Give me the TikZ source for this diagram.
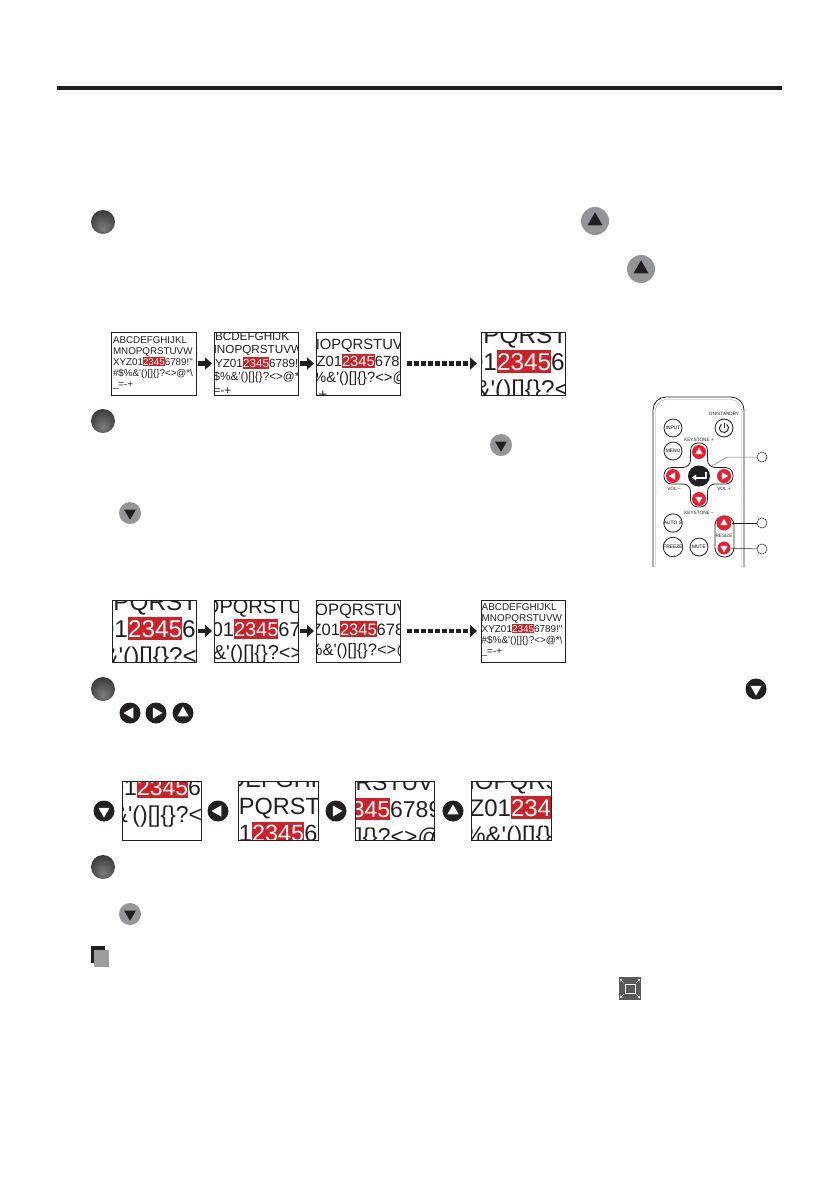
\documentclass[tikz,border=0pt]{standalone}
\usepackage{fontspec}
\usepackage{xcolor}
\usepackage{tikz}
\usetikzlibrary{shapes,shapes.geometric,arrows.meta}
\setsansfont{Liberation Sans}
\newfontfamily\sheetfont{Liberation Sans}
\definecolor{inkblack}{HTML}{231F20}
\definecolor{sheetred}{HTML}{CD2027}
\definecolor{btngray}{HTML}{939598}
\definecolor{remotered}{HTML}{ED1C2E}
\definecolor{icongray}{HTML}{58595B}
\pgfdeclareradialshading{bulletball}{\pgfpoint{0bp}{-14bp}}{color(0bp)=(inkblack!58); color(14bp)=(inkblack!72); color(34bp)=(inkblack!92); color(50bp)=(inkblack)}
\tikzstyle{frame} = [rectangle, draw=inkblack, line width=.8pt, inner sep=0pt, outer sep=0pt]
\tikzstyle{line} = [draw=inkblack, line width=4.5pt, shorten >=2pt, shorten <=2pt, -{Triangle[length=7pt,width=12pt]}]
\tikzstyle{dotline} = [line, shorten <=7pt, shorten >=4pt, dash pattern=on 4.5pt off 2.5pt]
\tikzstyle{bulletball} = [circle, minimum size=24pt, inner sep=0pt, shading=bulletball]
\tikzstyle{graybtn} = [circle, fill=btngray, inner sep=0pt]
\tikzstyle{darkbtn} = [circle, fill=inkblack, minimum size=21pt, inner sep=0pt]
\tikzstyle{redbtn} = [circle, fill=remotered, inner sep=0pt]
\tikzstyle{wedge} = [regular polygon, regular polygon sides=3, inner sep=0pt]
\tikzstyle{rkey} = [circle, draw=inkblack, line width=.8pt, minimum size=18pt, inner sep=0pt, font=\sffamily\fontsize{4.9}{5}\selectfont]
\tikzstyle{rlabel} = [inner sep=0pt, font=\sffamily\fontsize{4.7}{5}\selectfont, text=inkblack]
\tikzstyle{callout} = [circle, draw=inkblack, line width=.5pt, minimum size=10pt, inner sep=0pt]
\tikzstyle{sheetline} = [anchor=base west, inner sep=0pt, outer sep=0pt, text=inkblack]
\newlength{\sheetprefix}
\newcommand{\onred}[1]{{\color{white}#1}}
% name, x0, y0, x1, y1, left of red, baseline of red, font size, line distance
\newcommand{\thumbopen}[9]{
  \def\thumbname{#1}\def\thumbxa{#2}\def\thumbya{#3}\def\thumbxb{#4}\def\thumbyb{#5}
  \def\sheety{#7}\def\sheetsize{#8}\def\sheetgap{#9}
  \pgfmathsetmacro{\sheetx}{#6-3.057*#8}
  \begin{scope}
    \clip (#2,#3) rectangle (#4,#5);
    \fill [sheetred] (#6,#7-.83*#8) rectangle (#6+2.224*#8,#7+.13*#8);
}
% what stands before the visible part, visible part, row
\newcommand{\sheetrow}[3]{
  \settowidth{\sheetprefix}{\pgfinterruptpicture\sheetfont\fontsize{\sheetsize}{\sheetsize}\selectfont #1\endpgfinterruptpicture}
  \node [sheetline, font=\sheetfont\fontsize{\sheetsize}{\sheetsize}\selectfont] (\thumbname-#3) at ([xshift=\sheetprefix]{\sheetx},{\sheety+(#3)*\sheetgap}) {#2};
}
\newcommand{\thumbclose}{
  \end{scope}
  \pgfmathsetmacro{\sheetw}{\thumbxb-\thumbxa}
  \pgfmathsetmacro{\sheeth}{\thumbyb-\thumbya}
  \node [frame, minimum width=\sheetw pt, minimum height=\sheeth pt] (\thumbname) at ({(\thumbxa+\thumbxb)/2},{(\thumbya+\thumbyb)/2}) {};
}
\newcommand{\fullsheet}{
  \sheetrow{}{ABCDEFGHIJKL}{-2}
  \sheetrow{}{MNOPQRSTUVW}{-1}
  \sheetrow{}{XYZ01\onred{2345}6789!"}{0}
  \sheetrow{}{\#\$\%\&'()[]\{\}?<>@*\textbackslash}{1}
  \sheetrow{}{\textunderscore=-+}{2}
}
\begin{document}
\begin{tikzpicture}[x=1pt,y=-1pt]
\path [fill=white, use as bounding box] (0,0) rectangle (840,1192);
\fill [inkblack] (57,86) rectangle (782,90);

\node [bulletball] (stepA) at (103,222) {};
\node [bulletball] (stepB) at (103,421) {};
\node [bulletball] (stepC) at (103,689) {};
\node [bulletball] (stepD) at (103,867) {};

% gray buttons in the running text
\foreach \nm/\x/\y/\sz/\rot in {upA/595/221/28/0, upB/641/269/28/0, downA/501/445/22/180, downB/130/513/22/180, downC/130/914/22/180} {
  \node [graybtn, minimum size=\sz pt] (\nm) at (\x,\y) {};
  \pgfmathsetmacro{\tri}{\sz*.62}
  \node [wedge, fill=inkblack, minimum size=\tri pt, shape border rotate=\rot] (\nm-tri) at (\nm) {};
}
% black buttons
\foreach \nm/\x/\y/\rot in {textDown/756/689/180, textLeft/130/713/90, textRight/156/713/270, textUp/183/713/0, rowDown/104/811/180, rowLeft/218/811/90, rowRight/336/811/270, rowUp/453/811/0} {
  \node [darkbtn] (\nm) at (\x,\y) {};
  \node [wedge, fill=white, minimum size=13pt, shape border rotate=\rot] (\nm-tri) at (\nm) {};
}

\thumbopen{thumbA}{111}{332}{196}{395}{143}{365}{9.8}{11}
  \fullsheet
\thumbclose
\thumbopen{thumbB}{214}{332}{298}{395}{243}{367}{11.7}{13.5}
  \sheetrow{A}{BCDEFGHIJK}{-2}
  \sheetrow{}{MNOPQRSTUVW}{-1}
  \sheetrow{X}{YZ01\onred{2345}6789!}{0}
  \sheetrow{\#}{\$\%\&'()[]\{\}?<>@*}{1}
  \sheetrow{\textunderscore}{=-+}{2}
\thumbclose
\thumbopen{thumbC}{316}{332}{400}{395}{342}{366}{14.8}{16.5}
  \sheetrow{M}{NOPQRSTUV}{-1}
  \sheetrow{XY}{Z01\onred{2345}678}{0}
  \sheetrow{\#\$}{\%\&'()[]\{\}?<>@}{1}
  \sheetrow{\textunderscore=}{-+}{2}
\thumbclose
\thumbopen{thumbD}{481}{332}{565}{395}{497}{370}{24.3}{27}
  \sheetrow{MNO\hspace{4pt}}{PQRST}{-1}
  \sheetrow{XYZ}{01\onred{2345}6}{0}
  \sheetrow{\#\$\%\hspace{3pt}}{\&'()[]\{\}?<}{1}
\thumbclose
\path [line] (thumbA) -- (thumbB);
\path [line] (thumbB) -- (thumbC);
\path [dotline] (thumbC) -- (thumbD);

\thumbopen{thumbE}{112}{600}{196}{662}{128}{637}{24.3}{27}
  \sheetrow{MNO\hspace{3pt}}{PQRST}{-1}
  \sheetrow{XYZ}{01\onred{2345}6}{0}
  \sheetrow{\#\$\%}{\&'()[]\{\}?<}{1}
\thumbclose
\thumbopen{thumbF}{214}{600}{298}{662}{234}{636}{20}{23}
  \sheetrow{MN}{OPQRSTU}{-1}
  \sheetrow{XYZ}{01\onred{2345}67}{0}
  \sheetrow{\#\$\%}{\&'()[]\{\}?<>}{1}
\thumbclose
\thumbopen{thumbG}{316}{600}{400}{662}{340}{635}{16.5}{20}
  \sheetrow{MN}{OPQRSTUV}{-1}
  \sheetrow{XY}{Z01\onred{2345}678}{0}
  \sheetrow{\#\$}{\%\&'()[]\{\}?<>@}{1}
\thumbclose
\thumbopen{thumbH}{481}{600}{565}{662}{512}{632}{9.9}{11}
  \fullsheet
\thumbclose
\path [line] (thumbE) -- (thumbF);
\path [line] (thumbF) -- (thumbG);
\path [dotline] (thumbG) -- (thumbH);

\thumbopen{thumbI}{122}{781}{201}{840}{137}{795}{23}{27}
  \sheetrow{XYZ}{01\onred{2345}6}{0}
  \sheetrow{\#\$\%}{\&'()[]\{\}?<}{1}
\thumbclose
\thumbopen{thumbJ}{238}{781}{318}{840}{252}{841}{23.5}{27}
  \sheetrow{ABC}{DEFGHI}{-2}
  \sheetrow{MNO\hspace{4pt}}{PQRST}{-1}
  \sheetrow{XYZ}{01\onred{2345}6}{0}
\thumbclose
\thumbopen{thumbK}{355}{781}{434}{840}{339}{817}{23}{27}
  \sheetrow{MNOPQ}{RSTUV}{-1}
  \sheetrow{XYZ012}{\onred{345}6789}{0}
  \sheetrow{\#\$\%\&'()[}{]\{\}?<>@}{1}
\thumbclose
\thumbopen{thumbL}{471}{781}{551}{840}{511}{816}{24}{27}
  \sheetrow{M}{NOPQRS}{-1}
  \sheetrow{XY}{Z01\onred{234}}{0}
  \sheetrow{\#\$}{\%\&'()[]\{\}}{1}
\thumbclose

% note mark and full screen icon
\fill [inkblack] (91,946) rectangle (105,963);
\fill [black!38] (94,950) rectangle (109,967);
\node [rectangle, fill=icongray, minimum width=22pt, minimum height=23pt, inner sep=0pt] (fullIcon) at (630,988.5) {};
\node [rectangle, draw=white, line width=.8pt, minimum width=10pt, minimum height=9pt, inner sep=0pt] (fullBox) at (fullIcon) {};
\foreach \cn/\dx/\dy in {south west/-1/1, south east/1/1, north west/-1/-1, north east/1/-1} {
  \draw [white, line width=.5pt, -{Triangle[length=2pt,width=2.5pt]}] ([xshift=\dx*1pt,yshift=-\dy*1pt]fullBox.\cn) -- ([xshift=\dx*4.5pt,yshift=-\dy*4.5pt]fullBox.\cn);
}

% remote control
\draw [inkblack, line width=.8pt, rounded corners=13pt] (653,567) -- (653,397) -- (744,397) -- (744,567);
\draw [black!35, line width=.4pt, rounded corners=11pt] (655.5,567) -- (655.5,399.5) -- (741.5,399.5) -- (741.5,567);
\node [rlabel] (standbyLabel) at (724,414) {ON/STANDBY};
\node [rkey] (powerKey) at (724,428) {};
\draw [inkblack, line width=1pt] ([shift={(55:4.5pt)}]powerKey.center) arc [start angle=55, end angle=-235, radius=4.5pt];
\draw [inkblack, line width=1pt] (powerKey.center) -- ([yshift=5.5pt]powerKey.center);
\node [rkey] (inputKey) at (673,428) {INPUT};
\node [rkey] (menuKey) at (673,451) {MENU};
\node [rkey] (autoKey) at (673,523) {AUTO.S};
\node [rkey] (freezeKey) at (673,547) {FREEZE};
\node [rkey] (muteKey) at (699,547) {MUTE};
\node [rlabel] (keyPlus) at (699,440) {KEYSTONE +};
\node [rlabel] (keyMinus) at (699,513) {KEYSTONE --};
\node [rlabel] (volMinus) at (674,488.5) {VOL.--};
\node [rlabel] (volPlus) at (724,488.5) {VOL.+};
\draw [inkblack, line width=.8pt, rounded corners=7.5pt] (690.5,443) -- (707.5,443) -- (707.5,467.5) -- (733,467.5) -- (733,484) -- (707.5,484) -- (707.5,507) -- (690.5,507) -- (690.5,484) -- (664,484) -- (664,467.5) -- (690.5,467.5) -- cycle;
\node [rectangle, rounded corners=9pt, draw=inkblack, line width=.8pt, minimum width=19pt, minimum height=41pt, inner sep=0pt] (resizePill) at (724.5,536.5) {};
\node [rlabel] (resizeLabel) at (724,536) {RESIZE};
\foreach \nm/\x/\y/\sz/\rot in {keyUp/699/452/14/0, keyDown/699/499/14/180, volLeft/673/476/14/90, volRight/724/476/14/270, resizeUp/724/523/15/0, resizeDown/724/548/13/180} {
  \node [redbtn, minimum size=\sz pt] (\nm) at (\x,\y) {};
  \node [wedge, fill=white, minimum size=8.5pt, shape border rotate=\rot] (\nm-tri) at (\nm) {};
}
\node [ellipse, fill=inkblack, minimum width=22pt, minimum height=21pt, inner sep=0pt] (enterKey) at (699,476) {};
\draw [white, line width=2pt, -{Triangle[length=4pt,width=6pt]}] ([shift={(6.5,-4.5)}]enterKey.center) |- ([shift={(-7,1.5)}]enterKey.center);
\node [callout] (calloutA) at (762,457) {};
\node [callout] (calloutB) at (762,523) {};
\node [callout] (calloutC) at (762,549) {};
\coordinate (calloutBend) at (727,457);
\coordinate (crossEdge) at (712,466);
\draw [black!55, line width=.5pt] (calloutA) -- (calloutBend) -- (crossEdge);
\draw [inkblack, line width=.5pt] (calloutB) -- (resizeUp);
\draw [inkblack, line width=.5pt] (calloutC) -- (resizeDown);
\end{tikzpicture}
\end{document}
